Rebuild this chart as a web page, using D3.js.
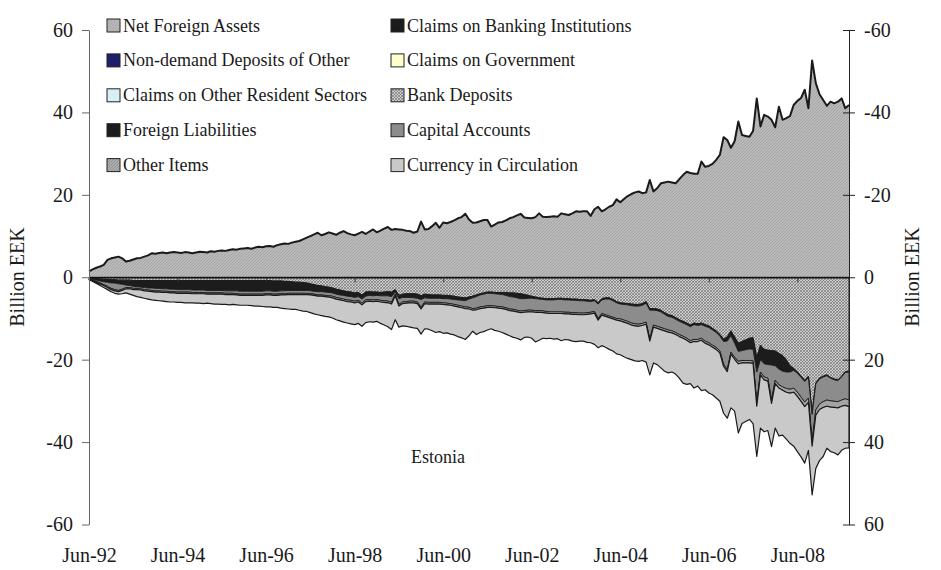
<!DOCTYPE html>
<html><head><meta charset="utf-8">
<script src="https://cdn.jsdelivr.net/npm/d3@7"></script>
<style>
body{margin:0;background:#fff;}
svg{display:block;font-family:"Liberation Serif","Times New Roman",serif;}
</style>
</head><body>
<svg id="c" width="941" height="570"></svg>
<script>
// Monthly observations, Jun-92 (index 0) .. Aug-09 (index 206), billion EEK
const netForeignAssets = [
1.4,1.9,2.3,2.6,3.0,4.2,4.6,4.8,5.0,4.6,3.8,4.0,
4.3,4.6,4.7,5.0,5.3,5.8,5.7,5.9,6.0,5.8,6.0,6.1,
6.0,5.9,6.1,6.0,5.8,6.0,6.2,6.1,6.0,6.3,6.2,6.4,
6.5,6.4,6.6,6.8,6.7,6.9,7.0,7.1,6.9,7.2,7.4,7.3,
7.5,7.6,7.4,7.8,8.0,8.2,8.1,8.4,8.6,8.8,9.2,9.6,
10.0,10.4,10.8,10.2,10.5,10.9,10.6,10.3,10.8,11.2,10.7,10.4,
10.2,10.6,11.0,10.5,11.1,11.6,10.9,11.3,11.8,12.2,11.5,11.7,
11.6,11.5,11.3,11.2,10.8,11.1,13.5,11.6,11.7,12.4,13.2,12.0,
13.3,13.1,13.4,13.8,14.3,14.6,15.4,14.0,13.2,13.3,13.6,13.9,
13.9,12.3,12.8,13.3,13.4,13.8,14.3,14.6,15.0,15.4,14.5,14.4,
14.3,14.6,15.5,14.7,14.6,14.7,14.8,14.7,15.5,15.3,15.1,15.5,
16.0,15.9,16.0,16.0,14.9,16.5,17.1,16.0,16.5,17.1,17.5,18.9,
18.2,19.0,19.7,20.2,20.6,20.8,20.4,20.6,23.6,20.8,21.6,22.8,
23.0,23.2,23.0,22.8,23.8,24.8,25.6,25.3,25.1,25.1,28.1,26.8,
27.0,27.5,28.5,29.7,34.0,33.3,31.4,33.0,37.8,34.5,34.3,34.1,
35.5,43.4,36.6,39.4,39.0,38.2,36.4,41.4,38.2,38.6,39.1,41.8,
42.8,43.5,45.5,41.0,52.6,47.1,44.4,43.0,41.6,42.6,42.2,42.6,
43.4,41.0,41.8];

const bankDeposits = [
-0.1,-0.2,-0.3,-0.4,-0.5,-0.5,-0.6,-0.6,-0.7,-0.7,-0.7,-0.7,
-0.8,-0.8,-0.8,-0.8,-0.8,-0.8,-0.8,-0.8,-0.8,-0.8,-0.8,-0.8,
-0.8,-0.8,-0.8,-0.8,-0.8,-0.8,-0.8,-0.8,-0.8,-0.8,-0.8,-0.8,
-0.8,-0.8,-0.8,-0.8,-0.8,-0.8,-0.8,-0.8,-0.8,-0.8,-0.8,-0.8,
-0.8,-0.8,-0.9,-0.9,-0.9,-1.0,-1.0,-1.1,-1.2,-1.2,-1.3,-1.4,
-1.6,-1.8,-2.0,-2.1,-2.3,-2.4,-2.6,-2.9,-3.1,-3.3,-3.5,-3.6,
-3.8,-3.7,-4.3,-3.6,-3.5,-3.6,-3.6,-3.7,-3.6,-3.5,-3.6,-3.0,
-4.4,-4.1,-4.0,-4.0,-4.0,-4.1,-4.5,-4.1,-4.2,-4.3,-4.3,-4.3,
-4.4,-4.4,-4.5,-4.6,-4.8,-4.9,-5.0,-4.8,-4.6,-4.3,-4.0,-3.8,
-3.6,-3.6,-3.7,-3.7,-3.7,-3.7,-3.8,-3.8,-3.9,-4.0,-4.2,-4.4,
-4.6,-4.8,-5.0,-5.1,-5.2,-5.2,-5.2,-5.1,-5.1,-5.2,-5.2,-5.3,
-5.3,-5.4,-5.4,-5.5,-5.6,-5.4,-6.2,-5.2,-5.0,-5.0,-5.4,-5.9,
-6.2,-6.3,-6.4,-6.5,-6.6,-6.6,-6.4,-5.9,-7.6,-7.6,-7.7,-8.0,
-8.6,-9.1,-9.3,-9.8,-10.3,-10.7,-11.1,-11.6,-11.1,-11.3,-11.1,-11.5,
-11.8,-12.4,-13.0,-13.9,-15.0,-14.5,-13.0,-14.5,-16.0,-15.6,-15.2,-14.8,
-14.7,-19.5,-16.5,-17.5,-17.7,-17.8,-17.9,-18.5,-19.0,-20.0,-21.5,-22.1,
-23.0,-24.0,-25.0,-24.0,-33.0,-25.7,-24.5,-24.0,-23.7,-24.3,-24.7,-24.9,
-24.0,-22.9,-22.8];

const foreignLiabilities = [
-0.2,-0.3,-0.4,-0.5,-0.6,-0.7,-0.8,-0.8,-0.9,-1.0,-1.2,-1.3,
-1.4,-1.5,-1.6,-1.7,-1.8,-1.8,-1.9,-1.9,-2.0,-2.0,-2.1,-2.1,
-2.2,-2.2,-2.2,-2.2,-2.3,-2.3,-2.3,-2.3,-2.4,-2.4,-2.4,-2.4,
-2.4,-2.5,-2.5,-2.5,-2.5,-2.6,-2.6,-2.6,-2.6,-2.6,-2.6,-2.6,
-2.5,-2.5,-2.5,-2.5,-2.4,-2.3,-2.2,-2.1,-2.0,-2.0,-1.9,-1.8,
-1.7,-1.6,-1.5,-1.4,-1.3,-1.3,-1.2,-1.2,-1.2,-1.1,-1.1,-1.1,
-1.1,-1.0,-1.0,-1.0,-0.9,-0.9,-0.8,-0.8,-0.9,-1.0,-1.1,-0.6,
-0.8,-0.8,-0.9,-0.9,-1.0,-1.0,-0.9,-0.9,-0.9,-0.8,-0.8,-0.8,
-0.8,-0.8,-0.8,-0.8,-0.7,-0.7,-0.7,-0.5,-0.4,-0.4,-0.3,-0.3,
-0.3,-0.3,-0.3,-0.4,-0.5,-0.7,-0.9,-1.0,-1.1,-1.2,-1.0,-0.7,
-0.5,-0.4,-0.3,-0.3,-0.3,-0.3,-0.3,-0.3,-0.3,-0.3,-0.3,-0.3,
-0.3,-0.3,-0.3,-0.3,-0.3,-0.3,-0.3,-0.3,-0.3,-0.3,-0.3,-0.3,
-0.3,-0.3,-0.3,-0.4,-0.4,-0.4,-0.4,-0.4,-0.4,-0.4,-0.4,-0.4,
-0.4,-0.4,-0.4,-0.4,-0.4,-0.4,-0.4,-0.4,-0.4,-0.4,-0.4,-0.4,
-0.4,-0.4,-0.4,-0.4,-0.6,-1.0,-1.2,-1.5,-2.0,-2.2,-2.4,-2.6,
-2.8,-3.5,-3.5,-3.5,-3.5,-3.5,-3.6,-3.8,-3.8,-3.0,-1.5,-0.5,
-0.3,-0.3,-0.3,-0.3,-0.3,-0.2,-0.2,-0.2,-0.2,-0.2,-0.2,-0.2,
-0.2,-0.2,-0.2];

const capitalAccounts = [
-0.1,-0.2,-0.3,-0.5,-0.7,-1.0,-1.3,-1.6,-1.6,-1.2,-0.6,-0.5,
-0.5,-0.4,-0.4,-0.5,-0.5,-0.6,-0.6,-0.6,-0.6,-0.6,-0.6,-0.6,
-0.6,-0.6,-0.6,-0.6,-0.6,-0.6,-0.6,-0.6,-0.6,-0.6,-0.6,-0.6,
-0.6,-0.6,-0.6,-0.6,-0.7,-0.7,-0.7,-0.7,-0.7,-0.7,-0.7,-0.7,
-0.7,-0.7,-0.7,-0.7,-0.7,-0.7,-0.7,-0.7,-0.7,-0.7,-0.7,-0.7,
-0.7,-0.7,-0.8,-0.8,-0.8,-0.8,-0.8,-0.8,-0.8,-0.9,-0.9,-0.9,
-0.9,-0.9,-1.0,-0.9,-1.0,-1.0,-1.0,-1.1,-1.2,-1.3,-1.4,-0.5,
-1.4,-1.1,-1.0,-0.9,-0.8,-0.9,-1.9,-1.0,-1.0,-1.0,-1.0,-1.0,
-1.0,-1.1,-1.1,-1.2,-1.3,-1.4,-1.5,-2.0,-2.6,-2.8,-2.9,-3.0,
-3.0,-3.0,-3.0,-3.0,-3.0,-3.0,-3.0,-3.0,-3.0,-3.0,-2.9,-2.9,
-2.9,-2.9,-2.8,-2.8,-2.8,-2.9,-2.9,-3.0,-3.0,-3.0,-3.0,-3.0,
-3.0,-3.0,-3.0,-2.8,-2.6,-2.6,-3.5,-3.3,-3.8,-4.1,-4.0,-3.8,
-3.6,-3.8,-4.0,-4.2,-4.3,-4.4,-4.4,-4.6,-7.0,-3.6,-3.8,-3.8,
-3.5,-3.3,-3.3,-3.2,-3.2,-3.2,-3.3,-3.4,-3.6,-3.4,-3.3,-3.6,
-3.7,-3.7,-3.6,-3.6,-5.5,-6.9,-4.0,-3.4,-2.4,-2.4,-2.6,-2.8,
-2.8,-7.5,-3.0,-3.2,-3.3,-8.5,-3.5,-3.8,-3.8,-4.0,-4.2,-4.3,
-4.6,-4.8,-5.0,-5.0,-6.5,-6.3,-6.1,-6.0,-5.9,-5.5,-5.2,-5.1,
-5.6,-6.4,-6.8];

const otherItems = [
-0.1,-0.1,-0.2,-0.2,-0.2,-0.3,-0.3,-0.3,-0.3,-0.3,-0.3,-0.3,
-0.3,-0.3,-0.3,-0.3,-0.3,-0.3,-0.3,-0.3,-0.3,-0.3,-0.3,-0.3,
-0.3,-0.3,-0.3,-0.3,-0.3,-0.3,-0.3,-0.3,-0.3,-0.3,-0.3,-0.3,
-0.3,-0.3,-0.3,-0.3,-0.3,-0.3,-0.3,-0.3,-0.3,-0.3,-0.3,-0.3,
-0.3,-0.3,-0.3,-0.3,-0.3,-0.3,-0.3,-0.3,-0.3,-0.3,-0.3,-0.3,
-0.3,-0.3,-0.3,-0.3,-0.3,-0.3,-0.4,-0.4,-0.4,-0.4,-0.4,-0.4,
-0.4,-0.4,-0.4,-0.4,-0.4,-0.4,-0.4,-0.4,-0.4,-0.4,-0.4,-0.4,
-0.4,-0.4,-0.4,-0.4,-0.4,-0.4,-0.4,-0.4,-0.4,-0.4,-0.4,-0.4,
-0.4,-0.4,-0.4,-0.4,-0.4,-0.4,-0.4,-0.4,-0.4,-0.4,-0.4,-0.4,
-0.4,-0.4,-0.4,-0.4,-0.4,-0.4,-0.4,-0.4,-0.4,-0.4,-0.4,-0.4,
-0.4,-0.4,-0.4,-0.4,-0.4,-0.4,-0.4,-0.4,-0.4,-0.4,-0.4,-0.4,
-0.4,-0.4,-0.4,-0.4,-0.4,-0.4,-0.4,-0.4,-0.4,-0.4,-0.4,-0.4,
-0.5,-0.5,-0.5,-0.5,-0.5,-0.5,-0.5,-0.5,-0.5,-0.5,-0.5,-0.5,
-0.5,-0.5,-0.5,-0.5,-0.5,-0.5,-0.5,-0.5,-0.5,-0.5,-0.5,-0.5,
-0.5,-0.5,-0.5,-0.5,-0.5,-0.5,-0.5,-0.5,-0.6,-0.6,-0.6,-0.6,
-0.6,-0.8,-0.7,-0.7,-0.7,-0.8,-0.8,-0.8,-0.8,-0.9,-0.9,-1.0,
-1.0,-1.0,-1.1,-1.1,-1.2,-1.3,-1.3,-1.4,-1.5,-1.5,-1.5,-1.5,
-1.5,-1.6,-1.6];

const currencyInCirculation = [
-0.1,-0.2,-0.3,-0.4,-0.5,-0.5,-0.5,-0.6,-0.6,-0.8,-1.0,-1.3,
-1.4,-1.7,-1.8,-1.8,-1.9,-2.0,-2.0,-2.1,-2.1,-2.2,-2.2,-2.2,
-2.2,-2.2,-2.3,-2.3,-2.2,-2.3,-2.3,-2.4,-2.2,-2.3,-2.4,-2.4,
-2.5,-2.4,-2.5,-2.4,-2.4,-2.4,-2.4,-2.4,-2.5,-2.6,-2.6,-2.7,
-2.9,-2.9,-2.9,-2.9,-3.2,-3.3,-3.5,-3.6,-3.6,-3.8,-4.0,-4.1,
-4.3,-4.5,-4.5,-4.7,-4.8,-4.8,-4.9,-5.0,-5.1,-5.2,-5.2,-5.3,
-5.3,-5.2,-5.2,-5.1,-5.0,-5.0,-4.9,-5.2,-5.5,-5.8,-6.2,-5.8,
-5.1,-5.4,-5.6,-5.9,-6.1,-6.0,-6.1,-6.1,-6.1,-6.5,-6.9,-6.7,
-7.0,-6.8,-7.0,-7.0,-7.2,-7.3,-7.5,-6.5,-5.1,-6.0,-5.8,-5.7,
-5.5,-5.2,-5.5,-5.6,-5.8,-6.0,-6.1,-6.4,-6.4,-6.6,-6.1,-6.1,
-6.4,-7.2,-6.8,-6.2,-6.2,-6.0,-6.2,-6.1,-6.6,-6.2,-6.3,-6.5,
-6.6,-6.4,-6.4,-6.8,-7.0,-7.6,-6.7,-7.4,-7.5,-7.7,-7.8,-8.2,
-8.2,-8.4,-8.5,-8.4,-8.5,-8.5,-8.5,-9.2,-8.2,-8.7,-8.8,-9.3,
-9.8,-9.9,-9.5,-9.6,-10.1,-10.9,-10.7,-9.9,-11.3,-10.8,-12.2,-11.3,
-11.7,-11.5,-11.8,-11.7,-11.4,-11.3,-13.0,-12.6,-16.8,-14.7,-14.2,-13.7,
-14.6,-12.2,-12.9,-12.6,-12.0,-10.5,-10.8,-11.6,-10.9,-11.4,-12.2,-13.1,
-13.4,-13.5,-13.7,-11.6,-11.8,-12.9,-12.4,-11.9,-10.2,-10.8,-11.0,-11.4,
-10.7,-10.4,-10.0];

const tickLabels = ["Jun-92","Jun-94","Jun-96","Jun-98","Jun-00","Jun-02","Jun-04","Jun-06","Jun-08"];
const tickMonths = [0,24,48,72,96,120,144,168,192];
const yTicks = [-60,-40,-20,0,20,40,60];
const legendCol1 = ["Net Foreign Assets","Non-demand Deposits of Other","Claims on Other Resident Sectors","Foreign Liabilities","Other Items"];
const legendCol2 = ["Claims on Banking Institutions","Claims on Government","Bank Deposits","Capital Accounts","Currency in Circulation"];

const svg = d3.select("#c");
const defs = svg.append("defs");
function pat(id, bg, fg, size, cross, w){
  const p = defs.append("pattern").attr("id",id).attr("patternUnits","userSpaceOnUse")
    .attr("width",size).attr("height",size);
  p.append("rect").attr("width",size).attr("height",size).attr("fill",bg);
  p.append("path").attr("d",`M0,${size} L${size},0 M-1,1 L1,-1 M${size-1},${size+1} L${size+1},${size-1}`)
    .attr("stroke",fg).attr("stroke-width",w);
  if(cross) p.append("path").attr("d",`M0,0 L${size},${size} M-1,${size-1} L1,${size+1} M${size-1},-1 L${size+1},1`)
    .attr("stroke",fg).attr("stroke-width",w*0.8);
}
pat("pNFA","#bababa","#a0a0a0",3,false,0.8);
pat("pBD","#cdcdcd","#6f6f6f",3,true,0.7);
pat("pOI","#adadad","#8a8a8a",3,false,0.8);

const fills = {
  nfa:"url(#pNFA)", bd:"url(#pBD)", fl:"#1c1c1c", ca:"#8c8c8c", oi:"#a4a4a4", cic:"#c9c9c9"
};

const x = d3.scaleLinear().domain([0,206]).range([89,849]);
const y = d3.scaleLinear().domain([-60,60]).range([524.5,30]);
const yR = d3.scaleLinear().domain([60,-60]).range([524.5,30]);

const rows = netForeignAssets.map((v,i)=>({i, nfa:v, bd:bankDeposits[i], fl:foreignLiabilities[i],
  ca:capitalAccounts[i], oi:otherItems[i], cic:currencyInCirculation[i]}));
const keys = ["nfa","bd","fl","ca","oi","cic"];
const series = d3.stack().keys(keys).offset(d3.stackOffsetDiverging)(rows);

const area = d3.area().x(d=>x(d.data.i)).y0(d=>y(d[0])).y1(d=>y(d[1]));
const g = svg.append("g");
series.forEach(s=>{
  g.append("path").datum(s).attr("d",area).attr("fill",fills[s.key])
   .attr("stroke", s.key==="nfa" ? "none" : "#1a1a1a")
   .attr("stroke-width", s.key==="cic" ? 1.2 : 0.9).attr("stroke-linejoin","round");
});
// top outline of net foreign assets
const nfaS = series.find(s=>s.key==="nfa");
g.append("path").datum(nfaS)
  .attr("d", d3.line().x(d=>x(d.data.i)).y(d=>y(d[1])))
  .attr("fill","none").attr("stroke","#1a1a1a").attr("stroke-width",2).attr("stroke-linejoin","round");

const fmt = d => String(d);

// zero axis with ticks
const xAxis = svg.append("g").attr("transform",`translate(0,${y(0)})`)
  .call(d3.axisBottom(x).tickValues(tickMonths).tickSize(5).tickSizeOuter(0).tickFormat(""));
xAxis.select(".domain").attr("stroke","#111").attr("stroke-width",1.5);
xAxis.selectAll(".tick line").attr("stroke","#333");

// month labels
const xLab = svg.append("g").attr("transform","translate(0,545)")
  .call(d3.axisBottom(x).tickValues(tickMonths).tickSize(0).tickPadding(0)
    .tickFormat((d,i)=>tickLabels[i]));
xLab.select(".domain").remove();
xLab.selectAll("text").attr("font-family","Liberation Serif").attr("font-size",20)
  .attr("fill","#1a1a1a").attr("dy","17px");

// left axis
const yAxisL = svg.append("g").attr("transform","translate(89,0)")
  .call(d3.axisLeft(y).tickValues(yTicks).tickSize(7).tickSizeOuter(0).tickPadding(9).tickFormat(fmt));
yAxisL.select(".domain").attr("stroke","#666");
yAxisL.selectAll(".tick line").attr("stroke","#666");
yAxisL.selectAll("text").attr("font-family","Liberation Serif").attr("font-size",20).attr("fill","#1a1a1a");

// right axis (reversed)
const yAxisR = svg.append("g").attr("transform","translate(849,0)")
  .call(d3.axisRight(yR).tickValues(yTicks).tickSize(6).tickSizeOuter(0).tickPadding(9).tickFormat(fmt));
yAxisR.select(".domain").attr("stroke","#222");
yAxisR.selectAll(".tick line").attr("stroke","#222").attr("x1",-6);
yAxisR.selectAll("text").attr("font-family","Liberation Serif").attr("font-size",20).attr("fill","#1a1a1a");

// axis titles
svg.append("text").attr("transform","translate(24,277) rotate(-90)").attr("text-anchor","middle")
  .attr("font-size",20).attr("fill","#1a1a1a").text("Billion EEK");
svg.append("text").attr("transform","translate(919,277) rotate(-90)").attr("text-anchor","middle")
  .attr("font-size",20).attr("fill","#1a1a1a").text("Billion EEK");

svg.append("text").attr("x",438).attr("y",463).attr("text-anchor","middle")
  .attr("font-size",18).attr("fill","#1a1a1a").text("Estonia");

// legend
const legFill1 = ["url(#pNFA)","#1f1f6b","#d8eff5","#1c1c1c","url(#pOI)"];
const legFill2 = ["#1c1c1c","#ffffcc","url(#pBD)","#8c8c8c","#c9c9c9"];
const leg = svg.append("g");
[[legendCol1,legFill1,107],[legendCol2,legFill2,391]].forEach(([names,fl,lx])=>{
  names.forEach((n,k)=>{
    const by = 31.5 + k*34.9;
    leg.append("rect").attr("x",lx).attr("y",by-12.5).attr("width",13).attr("height",13)
      .attr("fill",fl[k]).attr("stroke","#222").attr("stroke-width",1);
    leg.append("text").attr("x",lx+16).attr("y",by).attr("font-size",18).attr("fill","#1a1a1a").text(n);
  });
});
</script>
</body></html>
